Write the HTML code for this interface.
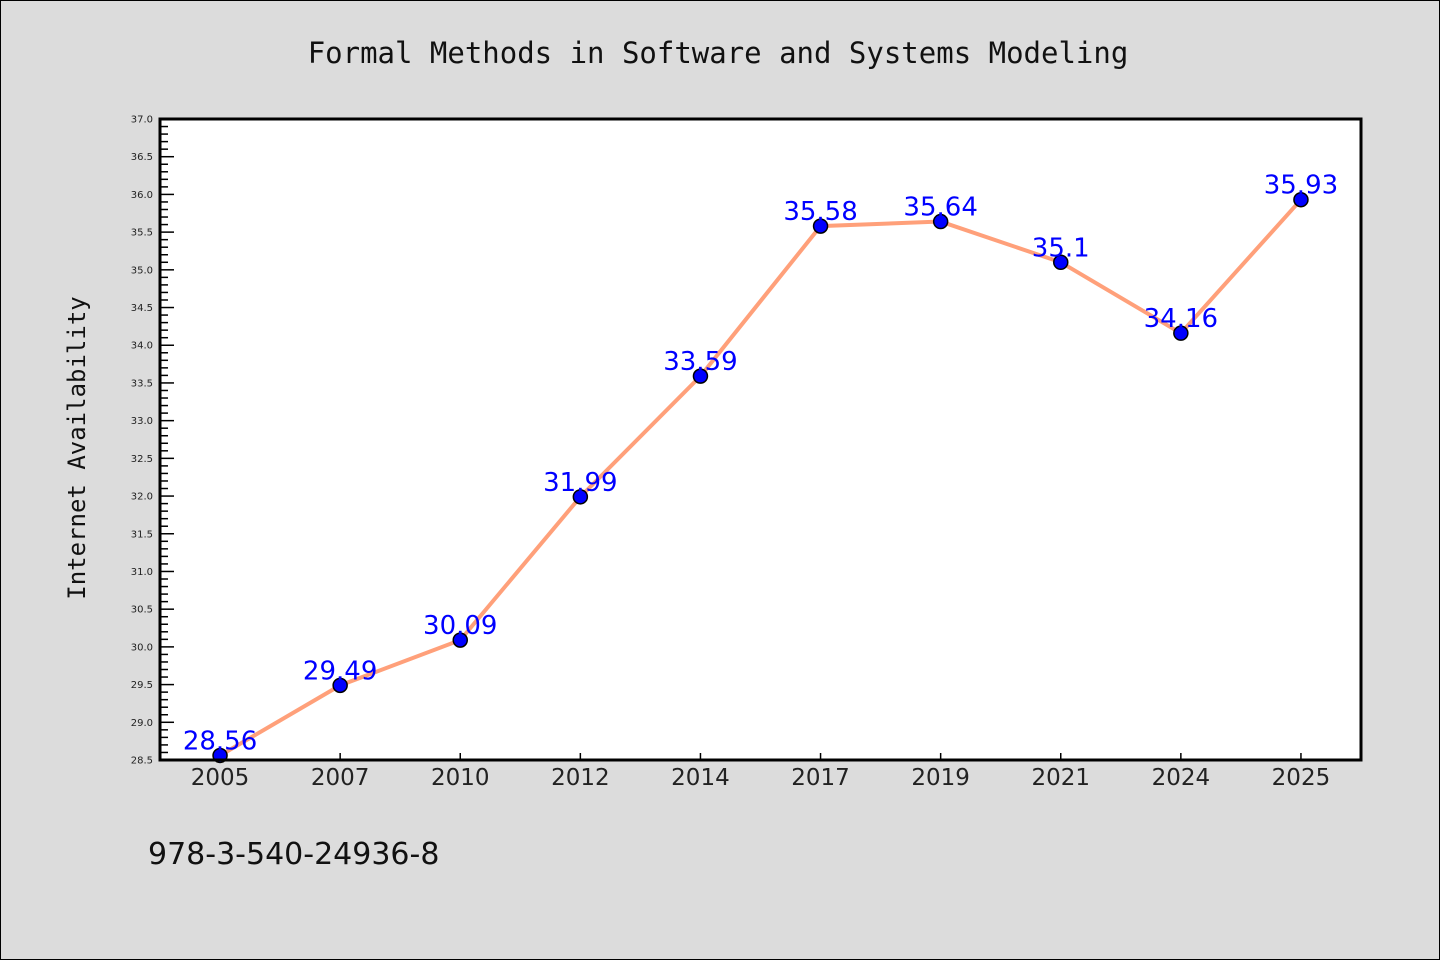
<!DOCTYPE html>
<html><head><meta charset="utf-8"><style>
html,body{margin:0;padding:0;background:#dcdcdc;}
svg{display:block;font-family:"DejaVu Sans","Liberation Sans",sans-serif;}
</style></head><body>
<svg width="1440" height="960" xmlns="http://www.w3.org/2000/svg">
<rect x="0.5" y="0.5" width="1439" height="959" fill="#dcdcdc" stroke="#000" stroke-width="1"/>
<text x="718" y="63" text-anchor="middle" font-size="29" font-family="DejaVu Sans Mono, Liberation Mono, monospace" fill="#111">Formal Methods in Software and Systems Modeling</text>
<rect x="160" y="119" width="1201" height="641" fill="#fff"/>
<g id="g-grid"></g>
<polyline id="line" fill="none" stroke="#ffa07a" stroke-width="4"/>
<g id="g-points"></g>
<rect x="160" y="119" width="1201" height="641" fill="none" stroke="#000" stroke-width="3"/>
<text transform="translate(85,448) rotate(-90)" text-anchor="middle" font-size="24" font-family="DejaVu Sans Mono, Liberation Mono, monospace" fill="#111">Internet Availability</text>
<text x="148" y="864" font-size="30" fill="#111">978-3-540-24936-8</text>
</svg>
<script>
const categories = ["2005","2007","2010","2012","2014","2017","2019","2021","2024","2025"];
const values = [28.56,29.49,30.09,31.99,33.59,35.58,35.64,35.1,34.16,35.93];
const valueLabels = ["28.56","29.49","30.09","31.99","33.59","35.58","35.64","35.1","34.16","35.93"];
const yTicks = [28.5,29.0,29.5,30.0,30.5,31.0,31.5,32.0,32.5,33.0,33.5,34.0,34.5,35.0,35.5,36.0,36.5,37.0];
const yMin = 28.5, yMax = 37.0;
const NS = "http://www.w3.org/2000/svg";
const L=160,R=1361,T=119,B=760;
function y(v){return B-(v-yMin)/(yMax-yMin)*(B-T);}
function x(i){const w=(R-L)/categories.length;return L+w*(i+0.5);}
function mk(t,a,p){const e=document.createElementNS(NS,t);for(const k in a)e.setAttribute(k,a[k]);p.appendChild(e);return e;}
const svg=document.querySelector('svg'), grid=document.getElementById('g-grid'), pts=document.getElementById('g-points');
// minor ticks
for(let k=0;k<=Math.round((yMax-yMin)*10);k++){
  const v=yMin+k*0.1, major=k%5===0;
  const t=mk('line',{x1:L,x2:L+(major?14:8),y1:y(v),y2:y(v),stroke:'#000','stroke-width':1.5},grid);
  
  
}
yTicks.forEach(v=>{
  const t=mk('text',{x:L-7,y:y(v)+3.5,'text-anchor':'end','font-size':10,fill:'#222'},svg);
  t.textContent=v.toFixed(1);
  
  
});
categories.forEach((c,i)=>{
  const t=mk('line',{x1:x(i),x2:x(i),y1:B,y2:B-7,stroke:'#000','stroke-width':1.5},grid);
  
  
  const l=mk('text',{x:x(i),y:B+25,'text-anchor':'middle','font-size':23,fill:'#222'},svg);
  l.textContent=c;
  
  
});
document.getElementById('line').setAttribute('points',values.map((v,i)=>x(i)+','+y(v)).join(' '));
values.forEach((v,i)=>{
  const c=mk('circle',{cx:x(i),cy:y(v),r:7,fill:'#0000ff',stroke:'#000','stroke-width':1.5},pts);
  
  
  const t=mk('text',{x:x(i),y:y(v)-6,'text-anchor':'middle','font-size':26,fill:'#0000ff'},pts);
  t.textContent=valueLabels[i];
  
  
});
</script>
</body></html>
